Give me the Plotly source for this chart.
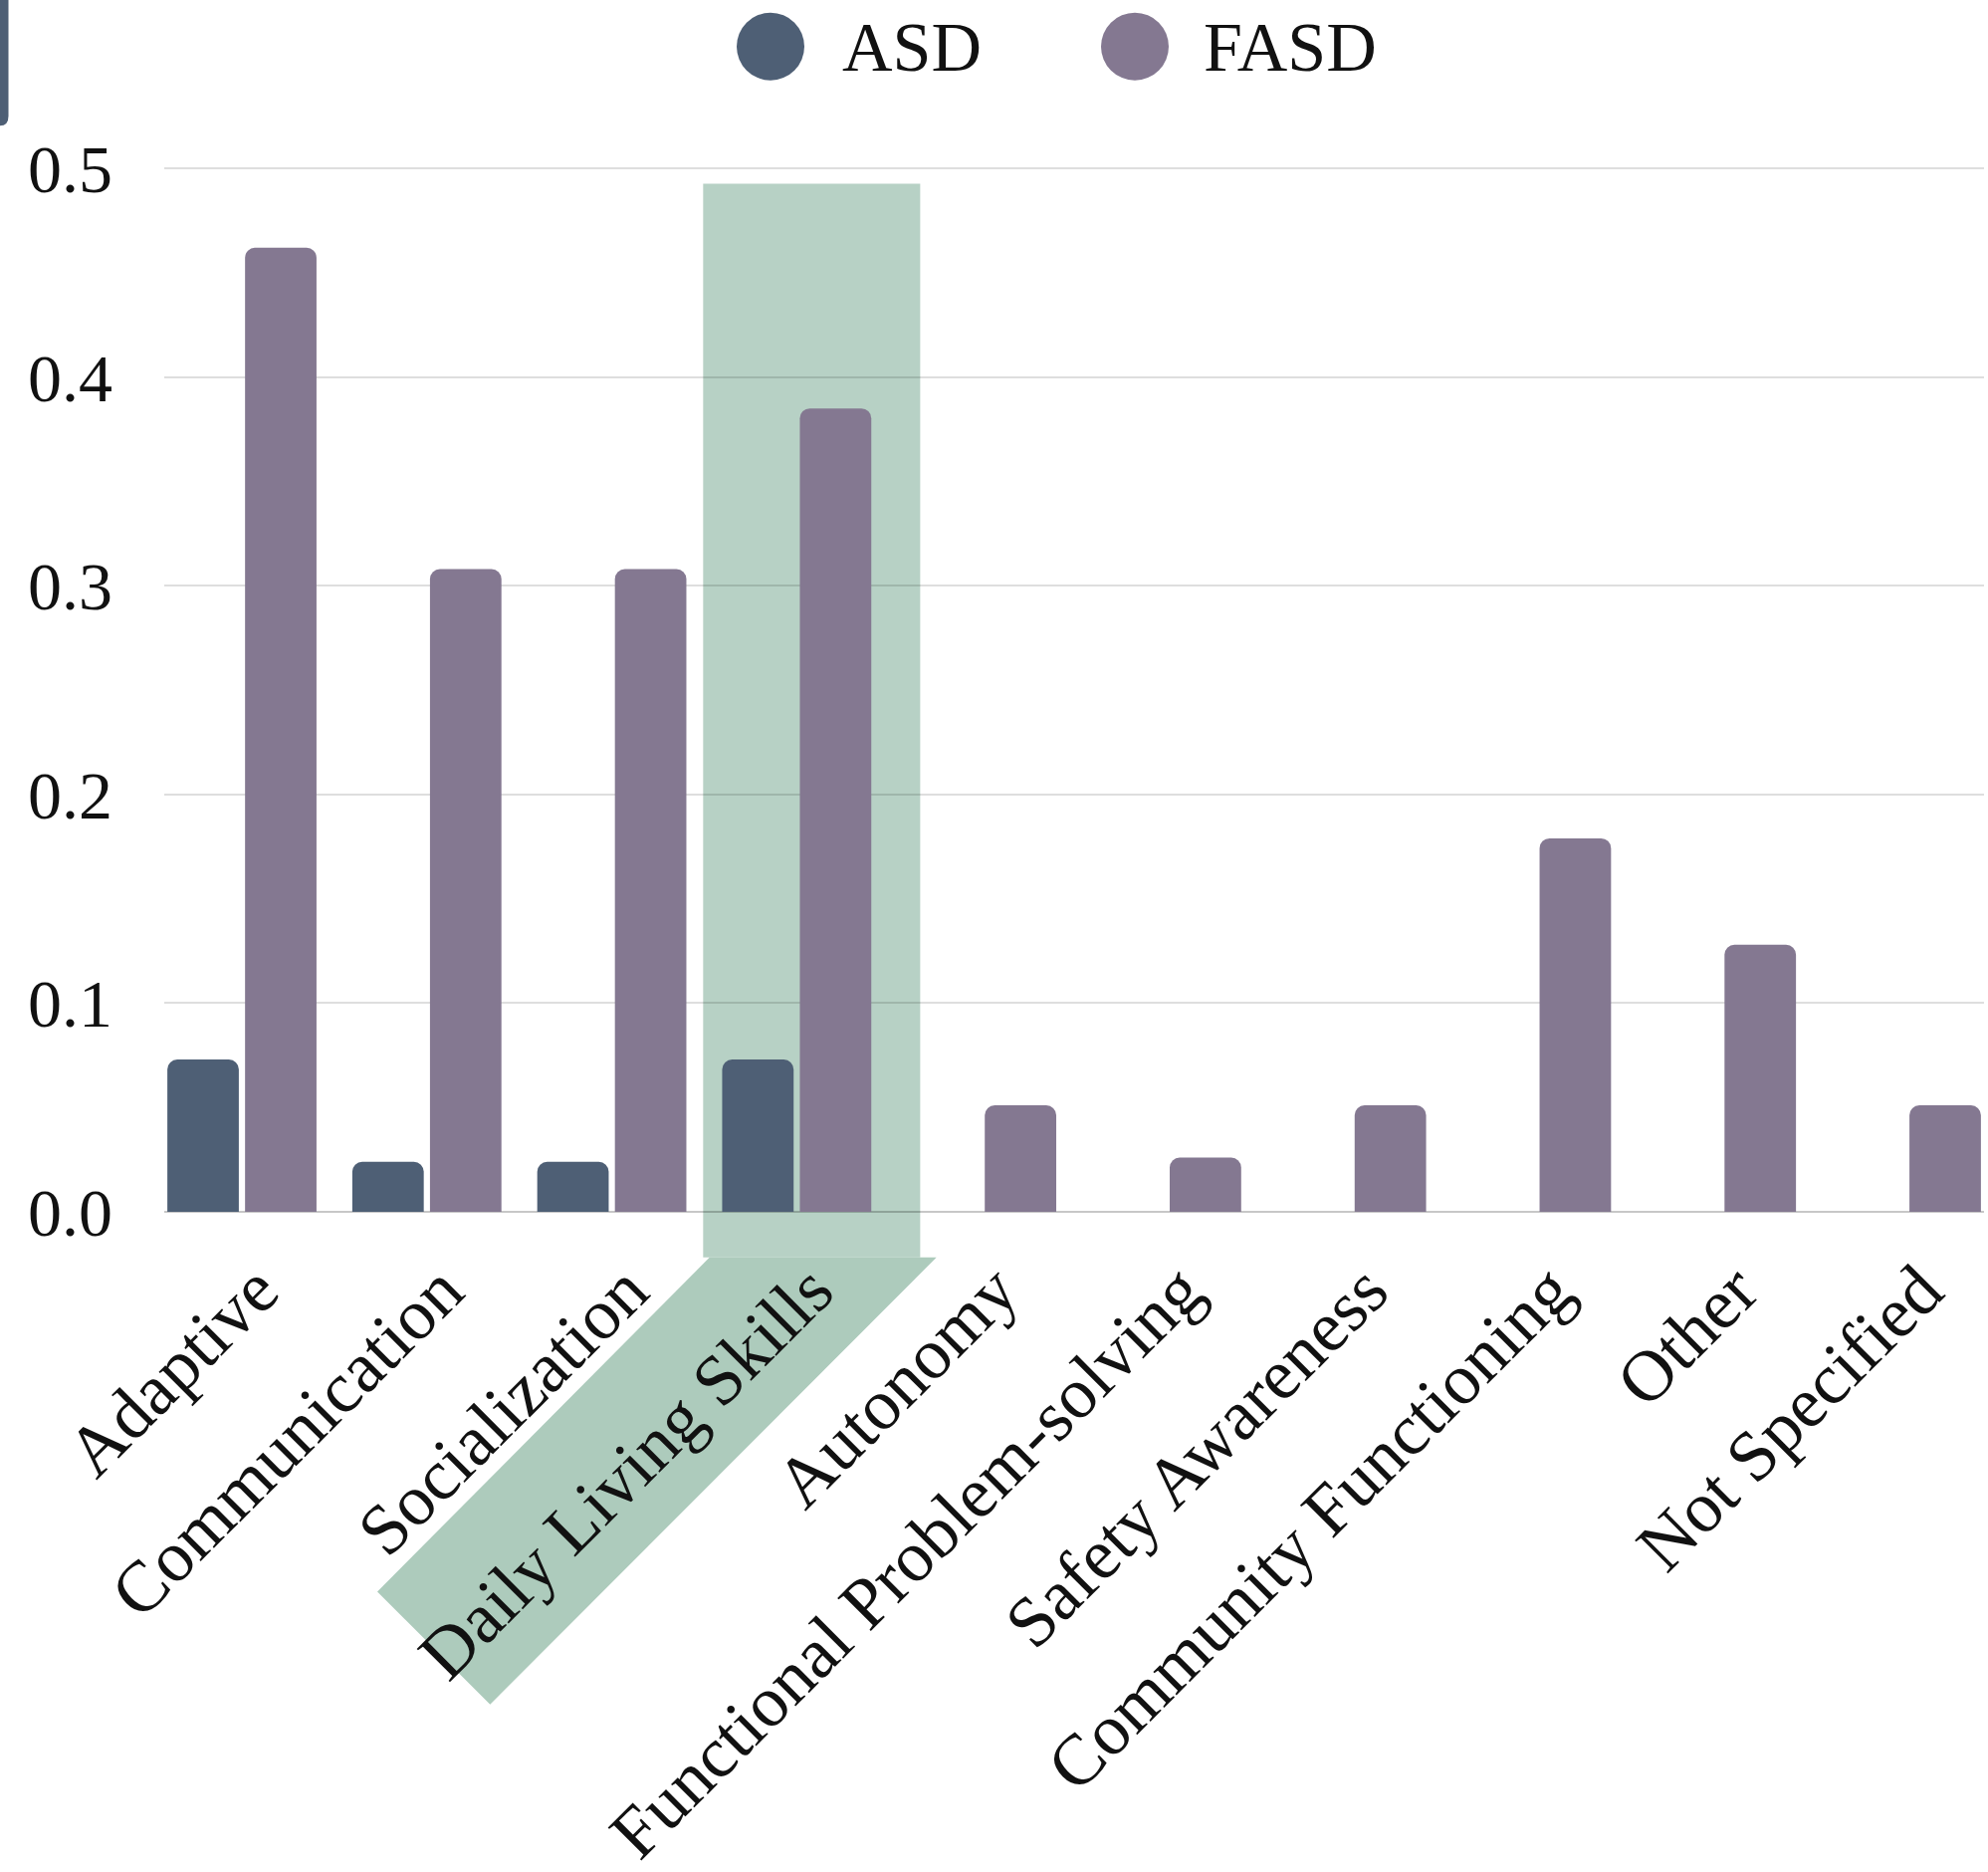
import plotly.graph_objects as go

# ---------------- data ----------------
categories = ["Adaptive", "Communication", "Socialization", "Daily Living Skills",
              "Autonomy", "Functional Problem-solving", "Safety Awareness",
              "Community Functioning", "Other", "Not Specified"]
asd_values = [0.073, 0.024, 0.024, 0.073, 0, 0, 0, 0, 0, 0]
fasd_values = [0.462, 0.308, 0.308, 0.385, 0.051, 0.026, 0.051, 0.179, 0.128, 0.051]
series_names = ["ASD", "FASD"]
y_ticks = [0.0, 0.1, 0.2, 0.3, 0.4, 0.5]
highlight_category = "Daily Living Skills"

# ---------------- styling ----------------
W, H = 1997, 1880
YMAX = 0.502
PL, PR = 165, 1993
PB = 1217.5                   # pixel row of value 0
PX_PER_UNIT = (1217.5 - 169.5) / 0.5
PT = PB - YMAX * PX_PER_UNIT
BARGAP = 0.16
ASD_COLOR = "#4e5f75"
FASD_COLOR = "#847891"
FONT = "Liberation Serif"
FS = 72
LFS = 70


def px_x(px):
    return (px - PL) / (PR - PL)


def px_y(py):
    return (PB - py) / (PB - PT)


n = len(categories)
step = (PR - PL) / (n - BARGAP)
hi = categories.index(highlight_category)
g_left = PL + hi * step
g_right = g_left + (1 - BARGAP) * step

fig = go.Figure()
fig.add_trace(go.Bar(x=categories, y=asd_values, name=series_names[0],
                     marker=dict(color=ASD_COLOR, cornerradius=10, line=dict(width=0)),
                     showlegend=False))
fig.add_trace(go.Bar(x=categories, y=fasd_values, name=series_names[1],
                     marker=dict(color=FASD_COLOR, cornerradius=10, line=dict(width=0)),
                     showlegend=False))

shapes = []
# highlight column
rx0, rx1, ry0, ry1 = g_left - 16, g_right + 46, 184.7, 1263.3
shapes.append(dict(type="rect", xref="paper", yref="paper", layer="below",
                   x0=px_x(rx0), x1=px_x(rx1), y0=px_y(ry1), y1=px_y(ry0),
                   fillcolor="#b7d1c5", line=dict(width=0)))
# highlight band behind the rotated label
pts = [(g_left - 9.6, 1263.3), (g_left + 218.4, 1263.3),
       (g_left - 230, 1712.3), (g_left - 343.3, 1599)]
path = "M " + " L ".join(f"{px_x(a):.5f},{px_y(b):.5f}" for a, b in pts) + " Z"
shapes.append(dict(type="path", xref="paper", yref="paper", layer="below",
                   path=path, fillcolor="#adcbbc", line=dict(width=0)))
# small dark tab in the top-left corner
tab = (f"M {px_x(0)},{px_y(0)} L {px_x(8.5)},{px_y(0)} L {px_x(8.5)},{px_y(117)} "
       f"Q {px_x(8.5)},{px_y(126.5)} {px_x(0)},{px_y(126.5)} Z")
shapes.append(dict(type="path", xref="paper", yref="paper", layer="above",
                   path=tab, fillcolor=ASD_COLOR, line=dict(width=0)))

# custom legend (large circles)
annotations = []
legend_items = [(series_names[0], ASD_COLOR, 774, 844), (series_names[1], FASD_COLOR, 1140, 1207)]
for name, col, cx, tx in legend_items:
    r = 34
    shapes.append(dict(type="circle", xref="paper", yref="paper", layer="above",
                       x0=px_x(cx - r), x1=px_x(cx + r), y0=px_y(47 + r), y1=px_y(47 - r),
                       fillcolor=col, line=dict(width=0)))
    annotations.append(dict(text=name, xref="paper", yref="paper", x=px_x(tx), y=px_y(48),
                            xanchor="left", yanchor="middle", showarrow=False,
                            font=dict(family=FONT, size=LFS, color="#111111")))

fig.update_layout(
    template="none",
    width=W, height=H,
    margin=dict(l=PL, r=W - PR, t=PT, b=H - PB, pad=0, autoexpand=False),
    paper_bgcolor="white", plot_bgcolor="white",
    barmode="group", bargap=BARGAP, bargroupgap=0.08,
    showlegend=False, hovermode=False,
    shapes=shapes, annotations=annotations,
    font=dict(family=FONT, size=FS, color="#111111"),
)
fig.update_xaxes(range=[-0.5 + BARGAP / 2, n - 0.5 - BARGAP / 2], tickangle=-45,
                 automargin=False,
                 showgrid=False, showline=False, zeroline=False, ticks="",
                 ticklabelshift=15, ticklabelstandoff=21,
                 tickfont=dict(family=FONT, size=FS, color="#111111"))
fig.update_yaxes(range=[0, YMAX], tickvals=y_ticks, tickformat=".1f",
                 automargin=False,
                 showgrid=True, gridcolor="rgba(0,0,0,0.13)", gridwidth=2,
                 zeroline=True, zerolinecolor="rgba(0,0,0,0.22)", zerolinewidth=2,
                 showline=False, ticks="", ticklabelstandoff=51,
                 tickfont=dict(family=FONT, size=68, color="#111111"))

fig.write_html("out.html", config={"displayModeBar": False},
               post_script="document.body.style.margin='0';document.body.style.overflow='hidden';")
